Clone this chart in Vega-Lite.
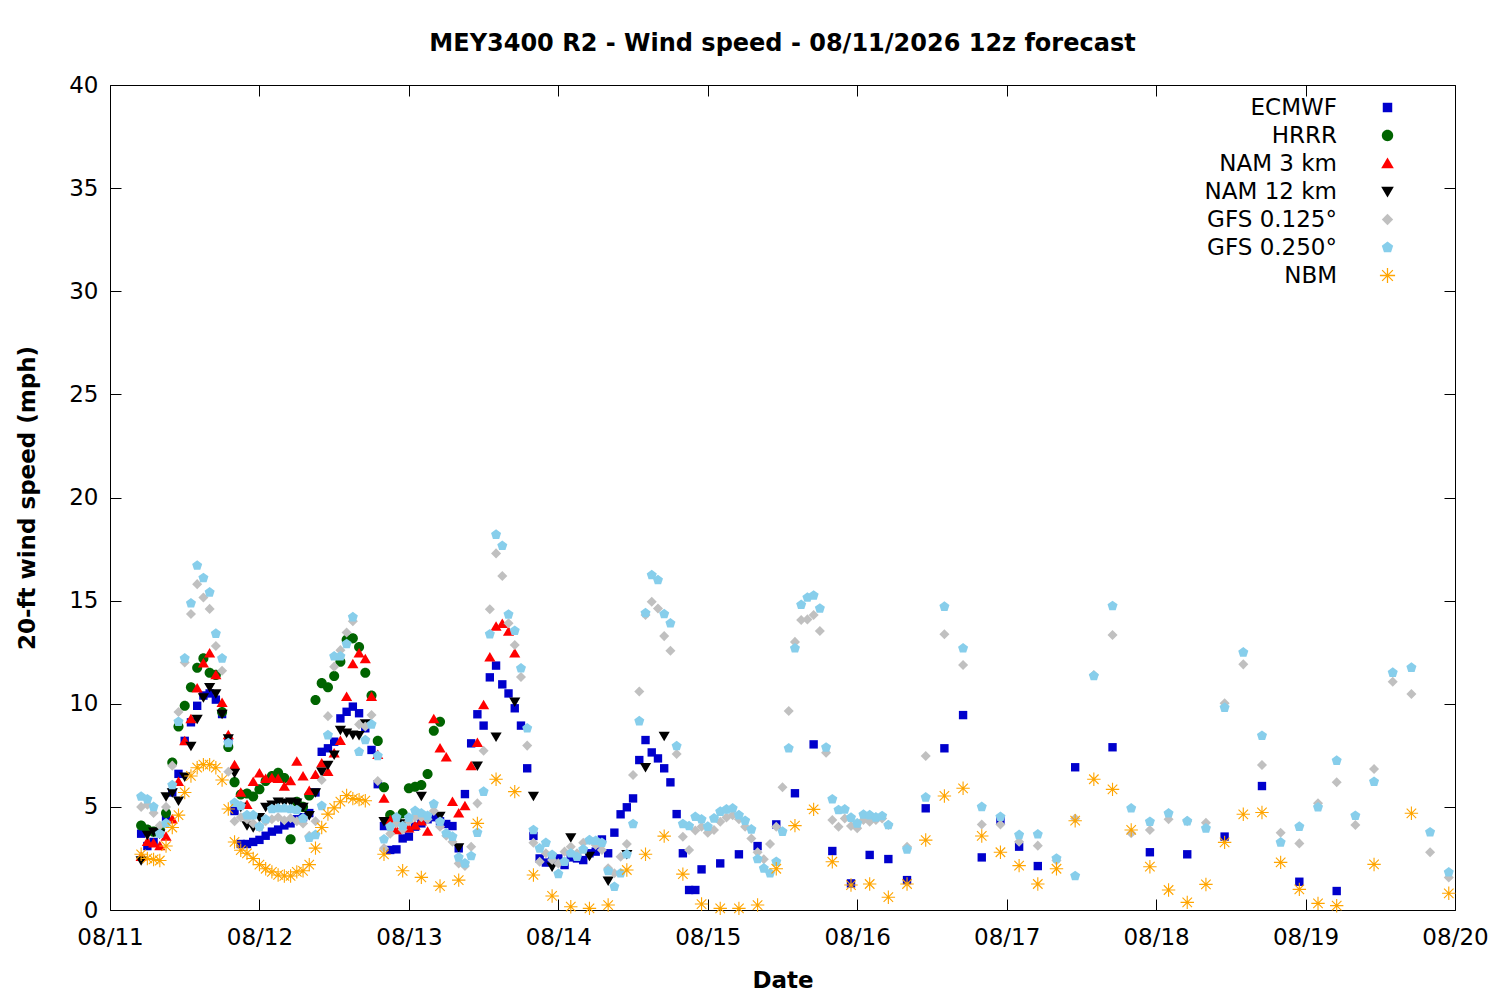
{
"$schema":"https://vega.github.io/schema/vega-lite/v6.json",
"autosize":{"type":"none"},
"width":1345,"height":825,
"padding":{"left":110,"top":85,"right":45,"bottom":90},
"background":"white",
"title":{"text":"MEY3400 R2 - Wind speed - 08/11/2026 12z forecast","fontSize":24,"fontWeight":"bold","font":"DejaVu Sans","color":"#000","anchor":"middle","baseline":"alphabetic","offset":-1},
"config":{
 "view":{"stroke":"#000","strokeWidth":1},
 "axis":{"domain":false,"grid":false,"tickColor":"#000","tickSize":-11,"tickWidth":1,"minExtent":0,"labelFontSize":23,"labelFont":"DejaVu Sans","labelColor":"#000","labelFlush":false,"titleFontSize":23,"titleFont":"DejaVu Sans","titleFontWeight":"bold","titleColor":"#000"},
 "legend":{"orient":"none","legendX":1266,"legendY":11,"title":null,"labelAlign":"right","labelOffset":-62,"labelFontSize":23,"labelFont":"DejaVu Sans","labelColor":"#000","symbolSize":160,"rowPadding":4,"labelLimit":0,"padding":0,"symbolStrokeWidth":0}
},
"data":{"values":[
{"m":"E","h":5,"v":3.7},{"m":"E","h":6,"v":3.1},{"m":"E","h":7,"v":3.3},{"m":"E","h":8,"v":3.8},{"m":"E","h":9,"v":4.5},{"m":"E","h":10,"v":5.7},{"m":"E","h":11,"v":6.6},{"m":"E","h":12,"v":8.2},{"m":"E","h":13,"v":9.1},{"m":"E","h":14,"v":9.9},{"m":"E","h":15,"v":10.4},{"m":"E","h":16,"v":10.5},{"m":"E","h":17,"v":10.2},{"m":"E","h":18,"v":9.5},{"m":"E","h":19,"v":8.2},{"m":"E","h":20,"v":4.8},{"m":"E","h":21,"v":3.2},{"m":"E","h":22,"v":3.2},{"m":"E","h":23,"v":3.3},{"m":"E","h":24,"v":3.4},{"m":"E","h":25,"v":3.6},{"m":"E","h":26,"v":3.8},{"m":"E","h":27,"v":3.9},{"m":"E","h":28,"v":4.1},{"m":"E","h":29,"v":4.2},{"m":"E","h":30,"v":4.4},{"m":"E","h":31,"v":4.5},{"m":"E","h":32,"v":4.7},{"m":"E","h":33,"v":5.7},{"m":"E","h":34,"v":7.67},{"m":"E","h":35,"v":7.84},{"m":"E","h":36,"v":8.16},{"m":"E","h":37,"v":9.29},{"m":"E","h":38,"v":9.61},{"m":"E","h":39,"v":9.86},{"m":"E","h":40,"v":9.54},{"m":"E","h":41,"v":8.81},{"m":"E","h":42,"v":7.76},{"m":"E","h":43,"v":6.1},{"m":"E","h":44,"v":4.07},{"m":"E","h":45,"v":2.91},{"m":"E","h":46,"v":2.94},{"m":"E","h":47,"v":3.47},{"m":"E","h":48,"v":3.56},{"m":"E","h":49,"v":4.04},{"m":"E","h":50,"v":4.2},{"m":"E","h":51,"v":4.4},{"m":"E","h":52,"v":4.5},{"m":"E","h":53,"v":4.3},{"m":"E","h":54,"v":4.17},{"m":"E","h":55,"v":4.07},{"m":"E","h":56,"v":2.99},{"m":"E","h":57,"v":5.62},{"m":"E","h":58,"v":8.08},{"m":"E","h":59,"v":9.49},{"m":"E","h":60,"v":8.94},{"m":"E","h":61,"v":11.28},{"m":"E","h":62,"v":11.85},{"m":"E","h":63,"v":10.94},{"m":"E","h":64,"v":10.5},{"m":"E","h":65,"v":9.78},{"m":"E","h":66,"v":8.94},{"m":"E","h":67,"v":6.87},{"m":"E","h":68,"v":3.59},{"m":"E","h":69,"v":2.5},{"m":"E","h":70,"v":2.3},{"m":"E","h":71,"v":2.4},{"m":"E","h":72,"v":2.5},{"m":"E","h":73,"v":2.18},{"m":"E","h":74,"v":2.55},{"m":"E","h":75,"v":2.5},{"m":"E","h":76,"v":2.42},{"m":"E","h":77,"v":2.75},{"m":"E","h":78,"v":2.83},{"m":"E","h":79,"v":3.42},{"m":"E","h":80,"v":2.75},{"m":"E","h":81,"v":3.75},{"m":"E","h":82,"v":4.64},{"m":"E","h":83,"v":4.98},{"m":"E","h":84,"v":5.41},{"m":"E","h":85,"v":7.27},{"m":"E","h":86,"v":8.24},{"m":"E","h":87,"v":7.64},{"m":"E","h":88,"v":7.35},{"m":"E","h":89,"v":6.87},{"m":"E","h":90,"v":6.19},{"m":"E","h":91,"v":4.65},{"m":"E","h":92,"v":2.75},{"m":"E","h":93,"v":0.97},{"m":"E","h":94,"v":0.97},{"m":"E","h":95,"v":1.97},{"m":"E","h":98,"v":2.26},{"m":"E","h":101,"v":2.7},{"m":"E","h":104,"v":3.1},{"m":"E","h":107,"v":4.15},{"m":"E","h":110,"v":5.66},{"m":"E","h":113,"v":8.03},{"m":"E","h":116,"v":2.86},{"m":"E","h":119,"v":1.29},{"m":"E","h":122,"v":2.67},{"m":"E","h":125,"v":2.47},{"m":"E","h":128,"v":1.45},{"m":"E","h":131,"v":4.93},{"m":"E","h":134,"v":7.84},{"m":"E","h":137,"v":9.45},{"m":"E","h":140,"v":2.55},{"m":"E","h":143,"v":4.33},{"m":"E","h":146,"v":3.07},{"m":"E","h":149,"v":2.13},{"m":"E","h":155,"v":6.92},{"m":"E","h":161,"v":7.89},{"m":"E","h":167,"v":2.8},{"m":"E","h":173,"v":2.7},{"m":"E","h":179,"v":3.56},{"m":"E","h":185,"v":6.01},{"m":"E","h":191,"v":1.37},{"m":"E","h":197,"v":0.92},
{"m":"H","h":5,"v":4.1},{"m":"H","h":6,"v":3.9},{"m":"H","h":7,"v":3.8},{"m":"H","h":8,"v":3.9},{"m":"H","h":9,"v":4.7},{"m":"H","h":10,"v":7.15},{"m":"H","h":11,"v":8.9},{"m":"H","h":12,"v":9.9},{"m":"H","h":13,"v":10.8},{"m":"H","h":14,"v":11.75},{"m":"H","h":15,"v":12.2},{"m":"H","h":16,"v":11.5},{"m":"H","h":17,"v":11.4},{"m":"H","h":18,"v":9.6},{"m":"H","h":19,"v":7.9},{"m":"H","h":20,"v":6.2},{"m":"H","h":21,"v":5.6},{"m":"H","h":22,"v":5.65},{"m":"H","h":23,"v":5.5},{"m":"H","h":24,"v":5.85},{"m":"H","h":25,"v":6.25},{"m":"H","h":26,"v":6.5},{"m":"H","h":27,"v":6.65},{"m":"H","h":28,"v":6.4},{"m":"H","h":29,"v":3.43},{"m":"H","h":30,"v":5.25},{"m":"H","h":31,"v":5.0},{"m":"H","h":32,"v":5.55},{"m":"H","h":33,"v":10.18},{"m":"H","h":34,"v":11.0},{"m":"H","h":35,"v":10.8},{"m":"H","h":36,"v":11.35},{"m":"H","h":37,"v":12.04},{"m":"H","h":38,"v":13.1},{"m":"H","h":39,"v":13.17},{"m":"H","h":40,"v":12.75},{"m":"H","h":41,"v":11.5},{"m":"H","h":42,"v":10.4},{"m":"H","h":43,"v":8.2},{"m":"H","h":44,"v":5.95},{"m":"H","h":45,"v":4.6},{"m":"H","h":46,"v":4.4},{"m":"H","h":47,"v":4.69},{"m":"H","h":48,"v":5.9},{"m":"H","h":49,"v":5.98},{"m":"H","h":50,"v":6.06},{"m":"H","h":51,"v":6.59},{"m":"H","h":52,"v":8.69},{"m":"H","h":53,"v":9.13},
{"m":"N3","h":5,"v":2.58},{"m":"N3","h":6,"v":3.31},{"m":"N3","h":7,"v":3.23},{"m":"N3","h":8,"v":3.1},{"m":"N3","h":9,"v":3.56},{"m":"N3","h":10,"v":4.4},{"m":"N3","h":11,"v":6.22},{"m":"N3","h":12,"v":8.19},{"m":"N3","h":13,"v":9.26},{"m":"N3","h":14,"v":10.75},{"m":"N3","h":15,"v":11.96},{"m":"N3","h":16,"v":12.44},{"m":"N3","h":17,"v":11.39},{"m":"N3","h":18,"v":10.05},{"m":"N3","h":19,"v":8.48},{"m":"N3","h":20,"v":7.03},{"m":"N3","h":21,"v":5.7},{"m":"N3","h":22,"v":5.1},{"m":"N3","h":23,"v":6.22},{"m":"N3","h":24,"v":6.63},{"m":"N3","h":25,"v":6.36},{"m":"N3","h":26,"v":6.4},{"m":"N3","h":27,"v":6.36},{"m":"N3","h":28,"v":5.98},{"m":"N3","h":29,"v":6.25},{"m":"N3","h":30,"v":7.2},{"m":"N3","h":31,"v":6.48},{"m":"N3","h":32,"v":5.78},{"m":"N3","h":33,"v":6.55},{"m":"N3","h":34,"v":7.11},{"m":"N3","h":35,"v":6.7},{"m":"N3","h":36,"v":7.6},{"m":"N3","h":37,"v":8.2},{"m":"N3","h":38,"v":10.34},{"m":"N3","h":39,"v":11.92},{"m":"N3","h":40,"v":12.44},{"m":"N3","h":41,"v":12.17},{"m":"N3","h":42,"v":10.34},{"m":"N3","h":43,"v":7.52},{"m":"N3","h":44,"v":5.4},{"m":"N3","h":45,"v":4.36},{"m":"N3","h":46,"v":3.88},{"m":"N3","h":47,"v":4.0},{"m":"N3","h":48,"v":3.96},{"m":"N3","h":49,"v":4.1},{"m":"N3","h":50,"v":4.3},{"m":"N3","h":51,"v":3.8},{"m":"N3","h":52,"v":9.26},{"m":"N3","h":53,"v":7.84},{"m":"N3","h":54,"v":7.4},{"m":"N3","h":55,"v":5.25},{"m":"N3","h":56,"v":4.69},{"m":"N3","h":57,"v":5.04},{"m":"N3","h":58,"v":6.98},{"m":"N3","h":59,"v":8.11},{"m":"N3","h":60,"v":9.94},{"m":"N3","h":61,"v":12.25},{"m":"N3","h":62,"v":13.74},{"m":"N3","h":63,"v":13.87},{"m":"N3","h":64,"v":13.5},{"m":"N3","h":65,"v":12.44},
{"m":"N12","h":5,"v":2.4},{"m":"N12","h":6,"v":3.64},{"m":"N12","h":7,"v":3.8},{"m":"N12","h":8,"v":3.7},{"m":"N12","h":9,"v":5.5},{"m":"N12","h":10,"v":5.7},{"m":"N12","h":11,"v":5.3},{"m":"N12","h":12,"v":6.46},{"m":"N12","h":13,"v":7.96},{"m":"N12","h":14,"v":9.26},{"m":"N12","h":15,"v":10.3},{"m":"N12","h":16,"v":10.8},{"m":"N12","h":17,"v":10.5},{"m":"N12","h":18,"v":9.5},{"m":"N12","h":19,"v":8.32},{"m":"N12","h":20,"v":6.65},{"m":"N12","h":21,"v":5.0},{"m":"N12","h":22,"v":4.1},{"m":"N12","h":23,"v":4.0},{"m":"N12","h":24,"v":4.5},{"m":"N12","h":25,"v":5.0},{"m":"N12","h":26,"v":5.1},{"m":"N12","h":27,"v":5.25},{"m":"N12","h":28,"v":5.2},{"m":"N12","h":29,"v":5.25},{"m":"N12","h":30,"v":5.2},{"m":"N12","h":31,"v":5.0},{"m":"N12","h":32,"v":4.6},{"m":"N12","h":33,"v":5.7},{"m":"N12","h":34,"v":6.7},{"m":"N12","h":35,"v":7.03},{"m":"N12","h":36,"v":7.53},{"m":"N12","h":37,"v":8.73},{"m":"N12","h":38,"v":8.6},{"m":"N12","h":39,"v":8.5},{"m":"N12","h":40,"v":8.48},{"m":"N12","h":41,"v":9.05},{"m":"N12","h":44,"v":4.3},{"m":"N12","h":47,"v":4.2},{"m":"N12","h":50,"v":5.53},{"m":"N12","h":53,"v":4.56},{"m":"N12","h":56,"v":3.03},{"m":"N12","h":59,"v":7.0},{"m":"N12","h":62,"v":8.4},{"m":"N12","h":65,"v":10.1},{"m":"N12","h":68,"v":5.53},{"m":"N12","h":71,"v":2.1},{"m":"N12","h":74,"v":3.52},{"m":"N12","h":77,"v":2.62},{"m":"N12","h":80,"v":1.42},{"m":"N12","h":83,"v":2.7},{"m":"N12","h":86,"v":6.92},{"m":"N12","h":89,"v":8.44},
{"m":"G1","h":5,"v":5.0},{"m":"G1","h":6,"v":5.1},{"m":"G1","h":7,"v":4.7},{"m":"G1","h":8,"v":4.1},{"m":"G1","h":9,"v":5.0},{"m":"G1","h":10,"v":7.0},{"m":"G1","h":11,"v":9.6},{"m":"G1","h":12,"v":12.0},{"m":"G1","h":13,"v":14.35},{"m":"G1","h":14,"v":15.8},{"m":"G1","h":15,"v":15.15},{"m":"G1","h":16,"v":14.6},{"m":"G1","h":17,"v":12.8},{"m":"G1","h":18,"v":11.6},{"m":"G1","h":19,"v":6.7},{"m":"G1","h":20,"v":4.3},{"m":"G1","h":21,"v":4.5},{"m":"G1","h":22,"v":4.4},{"m":"G1","h":23,"v":4.2},{"m":"G1","h":24,"v":4.0},{"m":"G1","h":25,"v":4.3},{"m":"G1","h":26,"v":4.4},{"m":"G1","h":27,"v":4.5},{"m":"G1","h":28,"v":4.35},{"m":"G1","h":29,"v":4.45},{"m":"G1","h":30,"v":4.3},{"m":"G1","h":31,"v":4.2},{"m":"G1","h":32,"v":3.6},{"m":"G1","h":33,"v":4.3},{"m":"G1","h":34,"v":6.3},{"m":"G1","h":35,"v":9.4},{"m":"G1","h":36,"v":11.8},{"m":"G1","h":37,"v":12.6},{"m":"G1","h":38,"v":13.45},{"m":"G1","h":39,"v":14.0},{"m":"G1","h":40,"v":9.0},{"m":"G1","h":41,"v":8.9},{"m":"G1","h":42,"v":9.45},{"m":"G1","h":43,"v":6.25},{"m":"G1","h":44,"v":3.0},{"m":"G1","h":45,"v":3.7},{"m":"G1","h":46,"v":4.2},{"m":"G1","h":47,"v":3.9},{"m":"G1","h":48,"v":4.3},{"m":"G1","h":49,"v":4.5},{"m":"G1","h":50,"v":4.5},{"m":"G1","h":51,"v":4.4},{"m":"G1","h":52,"v":4.8},{"m":"G1","h":53,"v":4.04},{"m":"G1","h":54,"v":3.6},{"m":"G1","h":55,"v":3.31},{"m":"G1","h":56,"v":2.26},{"m":"G1","h":57,"v":2.13},{"m":"G1","h":58,"v":3.07},{"m":"G1","h":59,"v":5.17},{"m":"G1","h":60,"v":7.72},{"m":"G1","h":61,"v":14.58},{"m":"G1","h":62,"v":17.29},{"m":"G1","h":63,"v":16.19},{"m":"G1","h":64,"v":13.9},{"m":"G1","h":65,"v":12.85},{"m":"G1","h":66,"v":11.3},{"m":"G1","h":67,"v":7.97},{"m":"G1","h":68,"v":3.26},{"m":"G1","h":69,"v":2.34},{"m":"G1","h":70,"v":2.75},{"m":"G1","h":71,"v":2.42},{"m":"G1","h":72,"v":2.26},{"m":"G1","h":73,"v":2.83},{"m":"G1","h":74,"v":3.07},{"m":"G1","h":75,"v":2.75},{"m":"G1","h":76,"v":3.26},{"m":"G1","h":77,"v":3.39},{"m":"G1","h":78,"v":3.15},{"m":"G1","h":79,"v":2.91},{"m":"G1","h":80,"v":2.02},{"m":"G1","h":81,"v":1.78},{"m":"G1","h":82,"v":2.58},{"m":"G1","h":83,"v":3.2},{"m":"G1","h":84,"v":6.55},{"m":"G1","h":85,"v":10.59},{"m":"G1","h":86,"v":14.3},{"m":"G1","h":87,"v":14.95},{"m":"G1","h":88,"v":14.62},{"m":"G1","h":89,"v":13.28},{"m":"G1","h":90,"v":12.57},{"m":"G1","h":91,"v":7.56},{"m":"G1","h":92,"v":3.55},{"m":"G1","h":93,"v":2.91},{"m":"G1","h":94,"v":3.85},{"m":"G1","h":95,"v":4.04},{"m":"G1","h":96,"v":3.75},{"m":"G1","h":97,"v":3.88},{"m":"G1","h":98,"v":4.28},{"m":"G1","h":99,"v":4.49},{"m":"G1","h":100,"v":4.6},{"m":"G1","h":101,"v":4.4},{"m":"G1","h":102,"v":4.04},{"m":"G1","h":103,"v":3.47},{"m":"G1","h":104,"v":2.8},{"m":"G1","h":105,"v":2.46},{"m":"G1","h":106,"v":3.2},{"m":"G1","h":107,"v":4.04},{"m":"G1","h":108,"v":5.95},{"m":"G1","h":109,"v":9.65},{"m":"G1","h":110,"v":13.0},{"m":"G1","h":111,"v":14.06},{"m":"G1","h":112,"v":14.09},{"m":"G1","h":113,"v":14.3},{"m":"G1","h":114,"v":13.53},{"m":"G1","h":115,"v":7.63},{"m":"G1","h":116,"v":4.36},{"m":"G1","h":117,"v":4.04},{"m":"G1","h":118,"v":4.44},{"m":"G1","h":119,"v":4.07},{"m":"G1","h":120,"v":3.96},{"m":"G1","h":121,"v":4.36},{"m":"G1","h":122,"v":4.28},{"m":"G1","h":123,"v":4.36},{"m":"G1","h":124,"v":4.44},{"m":"G1","h":125,"v":4.12},{"m":"G1","h":128,"v":3.07},{"m":"G1","h":131,"v":7.47},{"m":"G1","h":134,"v":13.37},{"m":"G1","h":137,"v":11.88},{"m":"G1","h":140,"v":4.15},{"m":"G1","h":143,"v":4.15},{"m":"G1","h":146,"v":3.31},{"m":"G1","h":149,"v":3.12},{"m":"G1","h":152,"v":2.4},{"m":"G1","h":155,"v":4.44},{"m":"G1","h":158,"v":11.39},{"m":"G1","h":161,"v":13.33},{"m":"G1","h":164,"v":3.72},{"m":"G1","h":167,"v":3.88},{"m":"G1","h":170,"v":4.4},{"m":"G1","h":173,"v":4.31},{"m":"G1","h":176,"v":4.23},{"m":"G1","h":179,"v":10.02},{"m":"G1","h":182,"v":11.91},{"m":"G1","h":185,"v":7.03},{"m":"G1","h":188,"v":3.75},{"m":"G1","h":191,"v":3.23},{"m":"G1","h":194,"v":5.17},{"m":"G1","h":197,"v":6.19},{"m":"G1","h":200,"v":4.12},{"m":"G1","h":203,"v":6.84},{"m":"G1","h":206,"v":11.07},{"m":"G1","h":209,"v":10.47},{"m":"G1","h":212,"v":2.8},{"m":"G1","h":215,"v":1.58},
{"m":"G2","h":5,"v":5.5},{"m":"G2","h":6,"v":5.37},{"m":"G2","h":7,"v":5.0},{"m":"G2","h":8,"v":3.7},{"m":"G2","h":9,"v":4.2},{"m":"G2","h":10,"v":6.06},{"m":"G2","h":11,"v":9.13},{"m":"G2","h":12,"v":12.2},{"m":"G2","h":13,"v":14.87},{"m":"G2","h":14,"v":16.7},{"m":"G2","h":15,"v":16.1},{"m":"G2","h":16,"v":15.4},{"m":"G2","h":17,"v":13.4},{"m":"G2","h":18,"v":12.2},{"m":"G2","h":19,"v":8.1},{"m":"G2","h":20,"v":5.2},{"m":"G2","h":21,"v":5.05},{"m":"G2","h":22,"v":4.6},{"m":"G2","h":23,"v":4.6},{"m":"G2","h":24,"v":4.04},{"m":"G2","h":25,"v":4.4},{"m":"G2","h":26,"v":4.9},{"m":"G2","h":27,"v":4.93},{"m":"G2","h":28,"v":4.93},{"m":"G2","h":29,"v":4.9},{"m":"G2","h":30,"v":4.85},{"m":"G2","h":31,"v":4.44},{"m":"G2","h":32,"v":3.5},{"m":"G2","h":33,"v":3.64},{"m":"G2","h":34,"v":5.05},{"m":"G2","h":35,"v":8.48},{"m":"G2","h":36,"v":12.3},{"m":"G2","h":37,"v":12.3},{"m":"G2","h":38,"v":12.9},{"m":"G2","h":39,"v":14.2},{"m":"G2","h":40,"v":7.67},{"m":"G2","h":41,"v":8.24},{"m":"G2","h":42,"v":9.0},{"m":"G2","h":43,"v":7.47},{"m":"G2","h":44,"v":3.43},{"m":"G2","h":45,"v":4.04},{"m":"G2","h":46,"v":4.49},{"m":"G2","h":47,"v":4.07},{"m":"G2","h":48,"v":4.48},{"m":"G2","h":49,"v":4.81},{"m":"G2","h":50,"v":4.69},{"m":"G2","h":51,"v":4.57},{"m":"G2","h":52,"v":5.14},{"m":"G2","h":53,"v":4.28},{"m":"G2","h":54,"v":3.72},{"m":"G2","h":55,"v":3.56},{"m":"G2","h":56,"v":2.55},{"m":"G2","h":57,"v":2.26},{"m":"G2","h":58,"v":2.62},{"m":"G2","h":59,"v":3.75},{"m":"G2","h":60,"v":5.74},{"m":"G2","h":61,"v":13.37},{"m":"G2","h":62,"v":18.2},{"m":"G2","h":63,"v":17.66},{"m":"G2","h":64,"v":14.33},{"m":"G2","h":65,"v":13.54},{"m":"G2","h":66,"v":11.72},{"m":"G2","h":67,"v":8.81},{"m":"G2","h":68,"v":3.88},{"m":"G2","h":69,"v":2.99},{"m":"G2","h":70,"v":3.26},{"m":"G2","h":71,"v":2.67},{"m":"G2","h":72,"v":1.75},{"m":"G2","h":73,"v":2.34},{"m":"G2","h":74,"v":2.75},{"m":"G2","h":75,"v":2.58},{"m":"G2","h":76,"v":2.94},{"m":"G2","h":77,"v":3.39},{"m":"G2","h":78,"v":3.36},{"m":"G2","h":79,"v":3.26},{"m":"G2","h":80,"v":1.89},{"m":"G2","h":81,"v":1.13},{"m":"G2","h":82,"v":1.78},{"m":"G2","h":83,"v":2.7},{"m":"G2","h":84,"v":4.17},{"m":"G2","h":85,"v":9.16},{"m":"G2","h":86,"v":14.4},{"m":"G2","h":87,"v":16.24},{"m":"G2","h":88,"v":16.0},{"m":"G2","h":89,"v":14.35},{"m":"G2","h":90,"v":13.9},{"m":"G2","h":91,"v":7.95},{"m":"G2","h":92,"v":4.17},{"m":"G2","h":93,"v":4.07},{"m":"G2","h":94,"v":4.52},{"m":"G2","h":95,"v":4.4},{"m":"G2","h":96,"v":4.04},{"m":"G2","h":97,"v":4.44},{"m":"G2","h":98,"v":4.77},{"m":"G2","h":99,"v":4.88},{"m":"G2","h":100,"v":4.93},{"m":"G2","h":101,"v":4.6},{"m":"G2","h":102,"v":4.33},{"m":"G2","h":103,"v":3.91},{"m":"G2","h":104,"v":2.47},{"m":"G2","h":105,"v":2.02},{"m":"G2","h":106,"v":1.78},{"m":"G2","h":107,"v":2.34},{"m":"G2","h":108,"v":3.8},{"m":"G2","h":109,"v":7.84},{"m":"G2","h":110,"v":12.69},{"m":"G2","h":111,"v":14.8},{"m":"G2","h":112,"v":15.15},{"m":"G2","h":113,"v":15.25},{"m":"G2","h":114,"v":14.62},{"m":"G2","h":115,"v":7.88},{"m":"G2","h":116,"v":5.37},{"m":"G2","h":117,"v":4.85},{"m":"G2","h":118,"v":4.88},{"m":"G2","h":119,"v":4.48},{"m":"G2","h":120,"v":4.2},{"m":"G2","h":121,"v":4.63},{"m":"G2","h":122,"v":4.6},{"m":"G2","h":123,"v":4.49},{"m":"G2","h":124,"v":4.56},{"m":"G2","h":125,"v":4.12},{"m":"G2","h":128,"v":2.94},{"m":"G2","h":131,"v":5.46},{"m":"G2","h":134,"v":14.71},{"m":"G2","h":137,"v":12.69},{"m":"G2","h":140,"v":5.0},{"m":"G2","h":143,"v":4.52},{"m":"G2","h":146,"v":3.64},{"m":"G2","h":149,"v":3.67},{"m":"G2","h":152,"v":2.5},{"m":"G2","h":155,"v":1.65},{"m":"G2","h":158,"v":11.35},{"m":"G2","h":161,"v":14.74},{"m":"G2","h":164,"v":4.93},{"m":"G2","h":167,"v":4.28},{"m":"G2","h":170,"v":4.69},{"m":"G2","h":173,"v":4.31},{"m":"G2","h":176,"v":3.96},{"m":"G2","h":179,"v":9.81},{"m":"G2","h":182,"v":12.49},{"m":"G2","h":185,"v":8.45},{"m":"G2","h":188,"v":3.28},{"m":"G2","h":191,"v":4.04},{"m":"G2","h":194,"v":4.98},{"m":"G2","h":197,"v":7.24},{"m":"G2","h":200,"v":4.57},{"m":"G2","h":203,"v":6.22},{"m":"G2","h":206,"v":11.51},{"m":"G2","h":209,"v":11.75},{"m":"G2","h":212,"v":3.77},{"m":"G2","h":215,"v":1.83},
{"m":"NB","h":5,"v":2.7},{"m":"NB","h":6,"v":2.5},{"m":"NB","h":7,"v":2.45},{"m":"NB","h":8,"v":2.4},{"m":"NB","h":9,"v":3.1},{"m":"NB","h":10,"v":4.0},{"m":"NB","h":11,"v":4.6},{"m":"NB","h":12,"v":5.7},{"m":"NB","h":13,"v":6.5},{"m":"NB","h":14,"v":6.9},{"m":"NB","h":15,"v":7.05},{"m":"NB","h":16,"v":7.05},{"m":"NB","h":17,"v":6.9},{"m":"NB","h":18,"v":6.3},{"m":"NB","h":19,"v":4.9},{"m":"NB","h":20,"v":3.3},{"m":"NB","h":21,"v":2.9},{"m":"NB","h":22,"v":2.75},{"m":"NB","h":23,"v":2.5},{"m":"NB","h":24,"v":2.2},{"m":"NB","h":25,"v":2.0},{"m":"NB","h":26,"v":1.85},{"m":"NB","h":27,"v":1.7},{"m":"NB","h":28,"v":1.65},{"m":"NB","h":29,"v":1.65},{"m":"NB","h":30,"v":1.85},{"m":"NB","h":31,"v":1.9},{"m":"NB","h":32,"v":2.2},{"m":"NB","h":33,"v":3.0},{"m":"NB","h":34,"v":4.0},{"m":"NB","h":35,"v":4.65},{"m":"NB","h":36,"v":4.95},{"m":"NB","h":37,"v":5.25},{"m":"NB","h":38,"v":5.55},{"m":"NB","h":39,"v":5.4},{"m":"NB","h":40,"v":5.35},{"m":"NB","h":41,"v":5.3},{"m":"NB","h":44,"v":2.7},{"m":"NB","h":47,"v":1.9},{"m":"NB","h":50,"v":1.58},{"m":"NB","h":53,"v":1.16},{"m":"NB","h":56,"v":1.45},{"m":"NB","h":59,"v":4.2},{"m":"NB","h":62,"v":6.34},{"m":"NB","h":65,"v":5.74},{"m":"NB","h":68,"v":1.7},{"m":"NB","h":71,"v":0.68},{"m":"NB","h":74,"v":0.16},{"m":"NB","h":77,"v":0.08},{"m":"NB","h":80,"v":0.24},{"m":"NB","h":83,"v":1.94},{"m":"NB","h":86,"v":2.7},{"m":"NB","h":89,"v":3.58},{"m":"NB","h":92,"v":1.74},{"m":"NB","h":95,"v":0.29},{"m":"NB","h":98,"v":0.08},{"m":"NB","h":101,"v":0.08},{"m":"NB","h":104,"v":0.24},{"m":"NB","h":107,"v":2.0},{"m":"NB","h":110,"v":4.09},{"m":"NB","h":113,"v":4.88},{"m":"NB","h":116,"v":2.34},{"m":"NB","h":119,"v":1.21},{"m":"NB","h":122,"v":1.26},{"m":"NB","h":125,"v":0.62},{"m":"NB","h":128,"v":1.26},{"m":"NB","h":131,"v":3.39},{"m":"NB","h":134,"v":5.53},{"m":"NB","h":137,"v":5.9},{"m":"NB","h":140,"v":3.59},{"m":"NB","h":143,"v":2.8},{"m":"NB","h":146,"v":2.15},{"m":"NB","h":149,"v":1.26},{"m":"NB","h":152,"v":2.0},{"m":"NB","h":155,"v":4.33},{"m":"NB","h":158,"v":6.34},{"m":"NB","h":161,"v":5.85},{"m":"NB","h":164,"v":3.88},{"m":"NB","h":167,"v":2.1},{"m":"NB","h":170,"v":0.97},{"m":"NB","h":173,"v":0.37},{"m":"NB","h":176,"v":1.24},{"m":"NB","h":179,"v":3.28},{"m":"NB","h":182,"v":4.64},{"m":"NB","h":185,"v":4.73},{"m":"NB","h":188,"v":2.31},{"m":"NB","h":191,"v":1.0},{"m":"NB","h":194,"v":0.32},{"m":"NB","h":197,"v":0.21},{"m":"NB","h":203,"v":2.21},{"m":"NB","h":209,"v":4.69},{"m":"NB","h":215,"v":0.81}
]},
"layer":[
 {"mark":{"type":"point","filled":true,"size":125,"opacity":1,"strokeWidth":0},
  "encoding":{
   "x":{"field":"h","type":"quantitative","scale":{"domain":[0,216],"nice":false,"zero":false},"axis":{"values":[0,24,48,72,96,120,144,168,192,216],"labelExpr":"'08/' + (11 + round(datum.value/24))","title":"Date","labelPadding":27,"titlePadding":20}},
   "y":{"field":"v","type":"quantitative","scale":{"domain":[0,40],"nice":false,"zero":true},"axis":{"values":[0,5,10,15,20,25,30,35,40],"title":"20-ft wind speed (mph)","labelPadding":23,"titlePadding":29}},
   "color":{"field":"m","type":"nominal","scale":{"domain":["E","H","N3","N12","G1","G2","NB"],"range":["#0000cc","#006400","#ff0000","#000000","#c0c0c0","#87ceeb","#ffa500"]},
     "legend":{"labelExpr":"datum.label=='E'?'ECMWF':datum.label=='H'?'HRRR':datum.label=='N3'?'NAM 3 km':datum.label=='N12'?'NAM 12 km':datum.label=='G1'?'GFS 0.125°':datum.label=='G2'?'GFS 0.250°':'NBM'"}},
   "shape":{"field":"m","type":"nominal","scale":{"domain":["E","H","N3","N12","G1","G2","NB"],"range":[
     "M-0.75,-0.75L0.75,-0.75L0.75,0.75L-0.75,0.75Z",
     "M0.9,0A0.9,0.9,0,1,1,-0.9,0A0.9,0.9,0,1,1,0.9,0Z",
     "M0,-0.95L1,0.75L-1,0.75Z",
     "M0,0.95L1,-0.75L-1,-0.75Z",
     "M0,-0.9L0.9,0L0,0.9L-0.9,0Z",
     "M0,-0.95L0.9,-0.29L0.56,0.77L-0.56,0.77L-0.9,-0.29Z",
     "M-1.2,-0.1L1.2,-0.1L1.2,0.1L-1.2,0.1ZM-0.1,-1.2L0.1,-1.2L0.1,1.2L-0.1,1.2ZM-0.78,-0.92L0.92,0.78L0.78,0.92L-0.92,-0.78ZM0.78,-0.92L0.92,-0.78L-0.78,0.92L-0.92,0.78Z"]},
     "legend":{"labelExpr":"datum.label=='E'?'ECMWF':datum.label=='H'?'HRRR':datum.label=='N3'?'NAM 3 km':datum.label=='N12'?'NAM 12 km':datum.label=='G1'?'GFS 0.125°':datum.label=='G2'?'GFS 0.250°':'NBM'"}}
  }},
 {"data":{"values":[{"h":0,"v":0}]},
  "mark":{"type":"point","opacity":0},
  "encoding":{
   "x":{"field":"h","type":"quantitative","axis":{"orient":"top","labels":false,"title":null,"minExtent":0,"maxExtent":0,"values":[0,24,48,72,96,120,144,168,192,216]}},
   "y":{"field":"v","type":"quantitative","axis":{"orient":"right","labels":false,"title":null,"minExtent":0,"maxExtent":0,"values":[0,5,10,15,20,25,30,35,40]}}
  }}
],
"resolve":{"axis":{"x":"independent","y":"independent"}}
}
